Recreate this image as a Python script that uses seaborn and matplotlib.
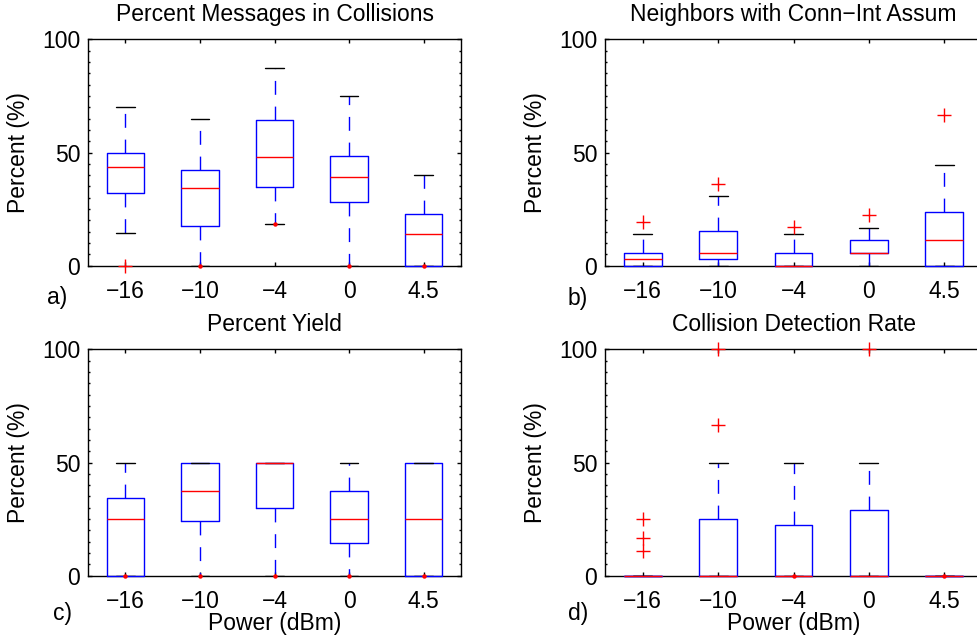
import numpy as np
import pandas as pd
import matplotlib
matplotlib.use("Agg")
import matplotlib.pyplot as plt
import seaborn as sns
from matplotlib.ticker import MultipleLocator, NullLocator

# ---------------- data ----------------
powers = ["\u221216", "\u221210", "\u22124", "0", "4.5"]

# a) Percent Messages in Collisions
a_lo = [14.4, 0.0, 18.3, 0.0, 0.0]
a_q1 = [32.1, 17.5, 34.9, 28.0, 0.0]
a_med = [43.7, 34.5, 48.2, 39.3, 14.0]
a_q3 = [49.9, 42.3, 64.5, 48.6, 23.0]
a_hi = [70.1, 64.9, 87.5, 75.1, 40.1]
a_out = [[0.0], [], [], [], []]
a_min = [[], [0.0], [18.3], [0.0], [0.0]]

# b) Neighbors with Conn-Int Assum
b_lo = [0.0, 0.0, 0.0, 0.0, 0.0]
b_q1 = [0.0, 2.8, 0.0, 5.6, 0.0]
b_med = [2.8, 5.6, 0.0, 5.6, 11.2]
b_q3 = [5.6, 15.3, 5.6, 11.2, 23.7]
b_hi = [14.0, 30.8, 14.0, 16.6, 44.5]
b_out = [[19.1], [35.9], [16.9], [22.2], [66.6]]
b_min = [[], [], [], [], []]

# c) Percent Yield
c_lo = [0.0, 0.0, 0.0, 0.0, 0.0]
c_q1 = [0.0, 24.2, 30.0, 14.6, 0.0]
c_med = [25.0, 37.5, 50.0, 25.0, 25.0]
c_q3 = [34.3, 50.0, 50.0, 37.4, 50.0]
c_hi = [50.0, 50.0, 50.0, 50.0, 50.0]
c_out = [[], [], [], [], []]
c_min = [[0.0], [0.0], [0.0], [0.0], [0.0]]

# d) Collision Detection Rate
d_lo = [0.0, 0.0, 0.0, 0.0, 0.0]
d_q1 = [0.0, 0.0, 0.0, 0.0, 0.0]
d_med = [0.0, 0.0, 0.0, 0.0, 0.0]
d_q3 = [0.0, 25.0, 22.4, 29.2, 0.0]
d_hi = [0.0, 50.0, 50.0, 50.0, 0.0]
d_out = [[25.0, 16.6, 11.0], [100.0, 66.6], [], [100.0], []]
d_min = [[], [], [0.0], [], [0.0]]

titles = ["Percent Messages in Collisions", "Neighbors with Conn\u2212Int Assum",
          "Percent Yield", "Collision Detection Rate"]
letters = ["a)", "b)", "c)", "d)"]

# ---------------- style ----------------
sns.set_style("ticks")
plt.rcParams["font.family"] = ["Liberation Sans", "DejaVu Sans"]
plt.rcParams["axes.unicode_minus"] = True

BLUE = (0, 0, 1)
RED = (1, 0, 0)
FS = 16.5
TFS = 16.5

W, H = 977, 638
fig = plt.figure(figsize=(W / 100, H / 100), dpi=100)


def px_axes(left, top, right, bottom):
    return fig.add_axes([left / W, 1 - bottom / H, (right - left) / W, (bottom - top) / H])


def box_frame(lo, q1, med, q3, hi):
    rows = []
    for i, p in enumerate(powers):
        for v in (lo[i], q1[i], med[i], q3[i], hi[i]):
            rows.append({"power": p, "value": v})
    return pd.DataFrame(rows)


def point_frame(lists):
    rows = []
    for i, p in enumerate(powers):
        for v in lists[i]:
            rows.append({"power": p, "value": v})
    return pd.DataFrame(rows, columns=["power", "value"])


def draw(ax, stats, outs, mins, title, xlabel):
    df = box_frame(*stats)
    sns.boxplot(data=df, x="power", y="value", order=powers, ax=ax,
                width=0.5, fill=False, color=BLUE, linewidth=1.0,
                whis=np.inf, showfliers=False, capwidths=0.25,
                boxprops=dict(color=BLUE, linewidth=1.0, zorder=3, clip_on=False),
                medianprops=dict(color=RED, linewidth=1.0, zorder=4, clip_on=False),
                whiskerprops=dict(color=BLUE, linewidth=1.0,
                                  linestyle=(0, (10, 8.5)), zorder=3),
                capprops=dict(color="black", linewidth=1.0, zorder=3))
    odf = point_frame(outs)
    if len(odf):
        sns.stripplot(data=odf, x="power", y="value", order=powers, ax=ax,
                      jitter=False, marker="+", color=RED, size=10,
                      linewidth=1.0, zorder=5, clip_on=False)
    mdf = point_frame(mins)
    if len(mdf):
        sns.stripplot(data=mdf, x="power", y="value", order=powers, ax=ax,
                      jitter=False, marker="o", color=RED, size=3.2,
                      linewidth=0, zorder=6, clip_on=False)

    ax.set_xlim(-0.5, 4.5)
    ax.set_ylim(0, 100)
    ax.set_yticks([0, 50, 100])
    ax.yaxis.set_minor_locator(MultipleLocator(5))
    ax.xaxis.set_minor_locator(NullLocator())
    ax.tick_params(which="both", direction="in", top=True, right=True,
                   color="black", width=1.0, labelsize=FS, labelcolor="black")
    ax.tick_params(which="major", length=2.9)
    ax.tick_params(which="minor", length=1.5)
    ax.tick_params(axis="x", pad=10)
    ax.tick_params(axis="y", pad=5.5)
    for s in ax.spines.values():
        s.set_visible(True)
        s.set_color("black")
        s.set_linewidth(1.0)
        s.set_zorder(2.5)
    ax.set_title(title, fontsize=TFS, pad=13.4, color="black")
    ax.set_ylabel("Percent (%)", fontsize=FS, color="black")
    ax.yaxis.set_label_coords(-0.155, 0.5)
    if xlabel:
        ax.set_xlabel("Power (dBm)", fontsize=FS, color="black")
        ax.xaxis.set_label_coords(0.5, -0.16)
    else:
        ax.set_xlabel("")
    ax.set_facecolor("white")


ax_a = px_axes(88, 39.3, 461, 265.7)
ax_b = px_axes(605, 39.3, 982, 265.7)
ax_c = px_axes(88, 349.3, 461, 575.7)
ax_d = px_axes(605, 349.3, 982, 575.7)

draw(ax_a, (a_lo, a_q1, a_med, a_q3, a_hi), a_out, a_min, titles[0], False)
draw(ax_b, (b_lo, b_q1, b_med, b_q3, b_hi), b_out, b_min, titles[1], False)
draw(ax_c, (c_lo, c_q1, c_med, c_q3, c_hi), c_out, c_min, titles[2], True)
draw(ax_d, (d_lo, d_q1, d_med, d_q3, d_hi), d_out, d_min, titles[3], True)

letter_pos = [(47, 304), (568, 305), (53, 620), (568, 620)]
for (x, y), t in zip(letter_pos, letters):
    fig.text(x / W, 1 - y / H, t, fontsize=FS, ha="left", va="baseline", color="black")

fig.savefig("out.png", dpi=100, facecolor="white")
